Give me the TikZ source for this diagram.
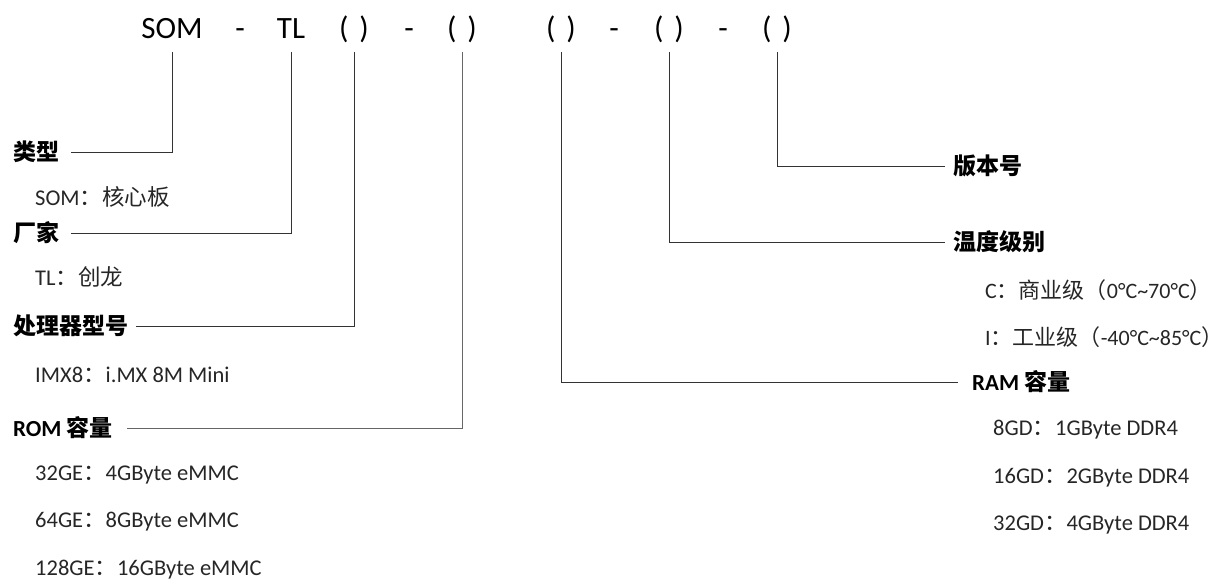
\documentclass[tikz,border=0pt]{standalone}
\usepackage{fontspec}
\setmainfont{Carlito}
\newfontfamily\cjk{Noto Sans CJK SC}
\usetikzlibrary{positioning}
\newcommand{\zh}[1]{{\cjk #1}}
\tikzset{
  code/part/.style={font=\fontsize{31}{31}\selectfont, inner sep=0pt, anchor=base},
  code/head/.style={font=\fontsize{23}{23}\selectfont\bfseries, inner sep=0pt, anchor=west},
  code/item/.style={font=\fontsize{22.5}{22.5}\selectfont, text=black!85, inner sep=0pt, anchor=west},
  code/lead/.style={draw=black!80, line width=1pt}
}

\begin{document}
\begin{tikzpicture}[x=1pt, y=-1pt]
\useasboundingbox (0,0) rectangle (1221,581);

% --- part number
\node[code/part] (som) at (172,38) {SOM};
\node[code/part] (d1)  at (240,38) {-};
\node[code/part] (tl)  at (291,38) {TL};
\node[code/part] (p1)  at (354,38) {(\hspace{11pt})};
\node[code/part] (d2)  at (409,38) {-};
\node[code/part] (p2)  at (462,38) {(\hspace{11pt})};
\node[code/part] (p3)  at (561,38) {(\hspace{11pt})};
\node[code/part] (d3)  at (614,38) {-};
\node[code/part] (p4)  at (669,38) {(\hspace{11pt})};
\node[code/part] (d4)  at (723,38) {-};
\node[code/part] (p5)  at (777,38) {(\hspace{11pt})};

% --- left fields
\node[code/head] (type)  at (13,152) {\zh{类型}};
\node[code/item] (typea) at (35,197) {SOM\zh{：核心板}};
\node[code/head] (vend)  at (13,233) {\zh{厂家}};
\node[code/item] (venda) at (35,277) {TL\zh{：创龙}};
\node[code/head] (cpu)   at (13,326) {\zh{处理器型号}};
\node[code/item] (cpua)  at (35,375) {IMX8\zh{：}i.MX 8M Mini};
\node[code/head] (rom)   at (13,428) {ROM \zh{容量}};
\node[code/item] (roma)  at (35,475) {32GE\zh{：}4GByte eMMC};
\node[code/item] (romb)  at (35,522) {64GE\zh{：}8GByte eMMC};
\node[code/item] (romc)  at (35,570) {128GE\zh{：}16GByte eMMC};

% --- right fields
\node[code/head] (ver)   at (953,166) {\zh{版本号}};
\node[code/head] (temp)  at (953,242) {\zh{温度级别}};
\node[code/item, font=\fontsize{22}{22}\selectfont] (tempa) at (985,290) {C\zh{：商业级（}0°C\textasciitilde70°C\zh{）}};
\node[code/item, font=\fontsize{22}{22}\selectfont] (tempb) at (985,337) {I\zh{：工业级（}-40°C\textasciitilde85°C\zh{）}};
\node[code/head] (ram)   at (972,382) {RAM \zh{容量}};
\node[code/item] (rama)  at (993,430) {8GD\zh{：}1GByte DDR4};
\node[code/item] (ramb)  at (993,478) {16GD\zh{：}2GByte DDR4};
\node[code/item] (ramc)  at (993,525) {32GD\zh{：}4GByte DDR4};

% --- leaders
\draw[code/lead] ([yshift=-14pt]som.base) |- ([xshift=12pt]type.east);
\draw[code/lead] ([yshift=-14pt]tl.base)  |- ([xshift=12pt]vend.east);
\draw[code/lead] ([yshift=-14pt]p1.base) |- ([xshift=8pt]cpu.east);
\draw[code/lead, draw=black!60] ([yshift=-14pt]p2.base) |- ([xshift=14pt]rom.east);
\draw[code/lead] ([yshift=-14pt]p3.base) |- ([xshift=-14pt]ram.west);
\draw[code/lead] ([yshift=-14pt]p4.base) |- ([xshift=-8pt]temp.west);
\draw[code/lead] ([yshift=-14pt]p5.base) |- ([xshift=-8pt]ver.west);

\end{tikzpicture}
\end{document}
